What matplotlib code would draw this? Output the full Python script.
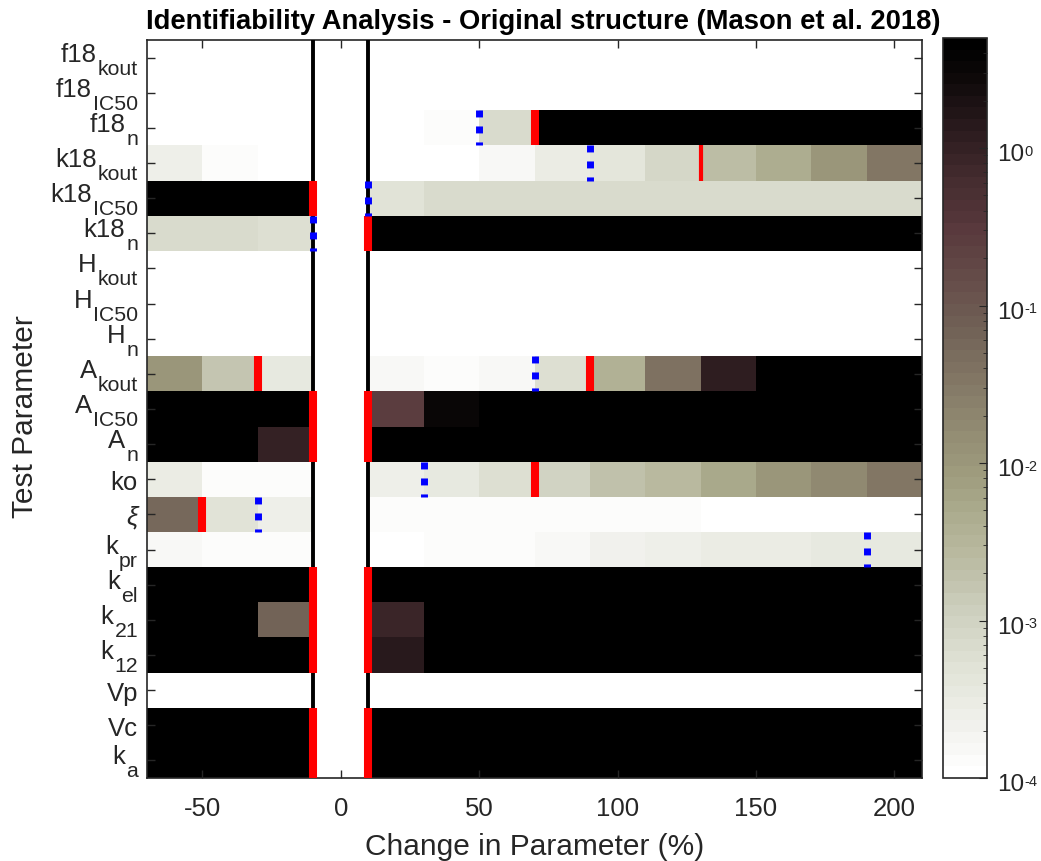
import numpy as np
import matplotlib
matplotlib.use("Agg")
import matplotlib.pyplot as plt
from matplotlib.colors import LogNorm, LinearSegmentedColormap, ListedColormap
from matplotlib.ticker import LogLocator, NullFormatter
from matplotlib.transforms import blended_transform_factory, offset_copy

plt.rcParams['font.family'] = ['Liberation Sans', 'DejaVu Sans']
plt.rcParams['axes.unicode_minus'] = False

# ---------------- data ----------------
param_names = ['f18', 'f18', 'f18', 'k18', 'k18', 'k18', 'H', 'H', 'H',
               'A', 'A', 'A', 'ko', 'ξ', 'k', 'k', 'k', 'k', 'Vp', 'Vc', 'k']
param_subs = ['kout', 'IC50', 'n', 'kout', 'IC50', 'n', 'kout', 'IC50', 'n',
              'kout', 'IC50', 'n', '', '', 'pr', 'el', '21', '12', '', '', 'a']

change_pct = [-60, -40, -20, 0, 20, 40, 60, 80, 100, 120, 140, 160, 180, 200]
x_ticks = [-50, 0, 50, 100, 150, 200]
cbar_decades = [-4, -3, -2, -1, 0]

N = np.nan   # unperturbed column
W = 1e-5     # below colour range (white)
B = 50.0     # above colour range (black)

f18_kout = [W, W, W, N, W, W, W, W, W, W, W, W, W, W]
f18_IC50 = [W, W, W, N, W, W, W, W, W, W, W, W, W, W]
f18_n    = [W, W, W, N, W, 1.3e-4, 7e-4, B, B, B, B, B, B, B]
k18_kout = [2.5e-4, 1.4e-4, W, N, W, W, 1.65e-4, 3.2e-4, 4.4e-4, 8e-4, 2.1e-3, 4.5e-3, 1.1e-2, 3.2e-2]
k18_IC50 = [B, B, B, N, 5e-4, 7e-4, 7e-4, 7e-4, 7e-4, 7e-4, 7e-4, 7e-4, 7e-4, 7e-4]
k18_n    = [7e-4, 7e-4, 5.6e-4, N, B, B, B, B, B, B, B, B, B, B]
H_kout   = [W, W, W, N, W, W, W, W, W, W, W, W, W, W]
H_IC50   = [W, W, W, N, W, W, W, W, W, W, W, W, W, W]
H_n      = [W, W, W, N, W, W, W, W, W, W, W, W, W, W]
A_kout   = [1.1e-2, 1.6e-3, 3.8e-4, N, 1.65e-4, 1.4e-4, 1.65e-4, 6.3e-4, 3.5e-3, 4e-2, 1.1, B, B, B]
A_IC50   = [B, B, B, N, 0.25, 3.5, B, B, B, B, B, B, B, B]
A_n      = [B, B, 1.0, N, B, B, B, B, B, B, B, B, B, B]
ko       = [3.2e-4, 1.4e-4, 1.25e-4, N, 2.5e-4, 3.8e-4, 6.3e-4, 1e-3, 1.9e-3, 2.8e-3, 5e-3, 1.1e-2, 1.8e-2, 3.2e-2]
xi       = [5.6e-2, 5e-4, 2.5e-4, N, 1.25e-4, 1.25e-4, 1.25e-4, 1.25e-4, 1.25e-4, 1.25e-4, W, W, W, W]
k_pr     = [1.65e-4, 1.4e-4, 1.25e-4, N, W, 1.3e-4, 1.25e-4, 1.65e-4, 2.2e-4, 2.5e-4, 3.2e-4, 3.2e-4, 3.8e-4, 3.8e-4]
k_el     = [B, B, B, N, B, B, B, B, B, B, B, B, B, B]
k_21     = [B, B, 7e-2, N, 0.8, B, B, B, B, B, B, B, B, B]
k_12     = [B, B, B, N, 1.5, B, B, B, B, B, B, B, B, B]
Vp       = [W, W, W, N, W, W, W, W, W, W, W, W, W, W]
Vc       = [B, B, B, N, B, B, B, B, B, B, B, B, B, B]
k_a      = [B, B, B, N, B, B, B, B, B, B, B, B, B, B]

# threshold markers: (row index, % change)
red_rows = [2, 3, 4, 5, 9, 9, 10, 10, 11, 11, 12, 13, 15, 15, 16, 16, 17, 17, 19, 19, 20, 20]
red_x    = [70, 130, -10, 10, -30, 90, -10, 10, -10, 10, 70, -50, -10, 10, -10, 10, -10, 10, -10, 10, -10, 10]
blue_rows = [2, 3, 4, 5, 9, 12, 13, 14]
blue_x    = [50, 90, 10, -10, 70, 30, -30, 190]
ref_lines = [-10, 10]

# ---------------- colormap ----------------
vmin, vmax = 1e-4, 5.0
anchor_log = [-4.0, -3.72, -3.34, -2.97, -2.59, -2.31, -2.07, -1.56, -1.18, -0.80, -0.48, -0.19, 0.18, 0.50, np.log10(vmax)]
anchor_rgb = [(255, 255, 255), (242, 242, 238), (225, 227, 215), (205, 207, 190), (185, 185, 160),
              (170, 170, 140), (158, 155, 125), (135, 125, 105), (115, 100, 88), (100, 75, 72),
              (88, 56, 60), (70, 45, 48), (40, 25, 28), (12, 8, 8), (0, 0, 0)]
lo, hi = np.log10(vmin), np.log10(vmax)
pos = [(a - lo) / (hi - lo) for a in anchor_log]
base = LinearSegmentedColormap.from_list('idf', list(zip(pos, [tuple(c / 255 for c in rgb) for rgb in anchor_rgb])))
cmap = ListedColormap(base(np.linspace(0, 1, 64)))
cmap.set_bad('white')
cmap.set_under('white')
cmap.set_over('black')

rows = [f18_kout, f18_IC50, f18_n, k18_kout, k18_IC50, k18_n, H_kout, H_IC50, H_n,
        A_kout, A_IC50, A_n, ko, xi, k_pr, k_el, k_21, k_12, Vp, Vc, k_a]
Z = np.ma.masked_invalid(np.array(rows, dtype=float))

cx = np.array(change_pct, dtype=float)
step = cx[1] - cx[0]
x_edges = np.concatenate([cx - step / 2, [cx[-1] + step / 2]])
y_edges = np.arange(len(param_names) + 1) - 0.5

# ---------------- figure ----------------
fig = plt.figure(figsize=(10.41, 8.61), dpi=100)
ax = fig.add_axes([147 / 1041, 83 / 861, 775 / 1041, 738 / 861])
mesh = ax.pcolormesh(x_edges, y_edges, Z, cmap=cmap, norm=LogNorm(vmin=vmin, vmax=vmax),
                     shading='flat', antialiased=False)
ax.set_xlim(x_edges[0], x_edges[-1])
ax.set_ylim(y_edges[-1], y_edges[0])

for xv in ref_lines:
    ax.axvline(xv, color='black', lw=2.8, zorder=3)

thin = {(3, 130)}
for r, xv in zip(red_rows, red_x):
    w = 3.0 if (r, xv) in thin else 5.8
    ax.plot([xv, xv], [r - 0.5, r + 0.5], color='red', lw=w, solid_capstyle='butt', zorder=4)

for r, xv in zip(blue_rows, blue_x):
    ax.plot([xv, xv], [r - 0.5, r + 0.5], color='blue', lw=5.0, linestyle=(0, (1.0, 1.3)),
            dash_capstyle='butt', zorder=5)

TXT = '#262626'
ax.set_yticks(range(len(param_names)))
ax.set_yticklabels([])
ax.set_xticks(x_ticks)
ax.set_xticklabels([str(t) for t in x_ticks], fontsize=18.5, color=TXT)
ax.tick_params(direction='in', length=6, width=1, top=True, right=True, color=TXT)
ax.tick_params(axis='x', pad=14)
for sp in ax.spines.values():
    sp.set_color(TXT)
    sp.set_linewidth(1.2)

renderer = fig.canvas.get_renderer()

# y tick labels with MATLAB-like subscripts
ytrans = blended_transform_factory(ax.transAxes, ax.transData)
for i, (nm, sb) in enumerate(zip(param_names, param_subs)):
    style = 'italic' if nm == 'ξ' else 'normal'
    if sb:
        ts = ax.text(0, i, sb, fontsize=15.3, color=TXT, ha='right', va='baseline',
                     transform=offset_copy(ytrans, fig, x=-9, y=-17, units='dots'))
        w = ts.get_window_extent(renderer).width
        ax.text(0, i, nm, fontsize=18.5, color=TXT, ha='right', va='baseline', fontstyle=style,
                transform=offset_copy(ytrans, fig, x=-9 - w - 1, y=-4, units='dots'))
    else:
        ax.text(0, i, nm, fontsize=18.5, color=TXT, ha='right', va='baseline', fontstyle=style,
                transform=offset_copy(ytrans, fig, x=-9, y=-10.5, units='dots'))

ax.set_xlabel('Change in Parameter (%)', fontsize=21.5, labelpad=8.5, color=TXT)
ax.set_ylabel('Test Parameter', fontsize=21.5, color=TXT)
ax.yaxis.set_label_coords(-108 / 775, 0.49)
ax.set_title('Identifiability Analysis - Original structure (Mason et al. 2018)',
             fontsize=19.7, fontweight='bold', pad=8, x=0.511)

# colorbar
cax = fig.add_axes([943 / 1041, 83 / 861, 44 / 1041, 740 / 861])
cb = fig.colorbar(mesh, cax=cax, extend='neither')
cax.yaxis.set_major_locator(LogLocator(base=10))
cax.yaxis.set_minor_locator(LogLocator(base=10, subs=np.arange(2, 10)))
cax.yaxis.set_major_formatter(NullFormatter())
cax.yaxis.set_minor_formatter(NullFormatter())
cax.tick_params(which='both', direction='in', color=TXT)
cax.tick_params(which='major', length=6)
cax.tick_params(which='minor', length=3)
cb.outline.set_edgecolor(TXT)
cb.outline.set_linewidth(1.2)

ctrans = blended_transform_factory(cax.transAxes, cax.transData)
for d in cbar_decades:
    tb = cax.text(1, 10.0 ** d, '10', fontsize=17.5, color=TXT, ha='left', va='baseline',
                  transform=offset_copy(ctrans, fig, x=10, y=-13, units='dots'))
    wb = tb.get_window_extent(renderer).width
    cax.text(1, 10.0 ** d, str(d), fontsize=10.5, color=TXT, ha='left', va='baseline',
             transform=offset_copy(ctrans, fig, x=10 + wb + 0.5, y=-7.5, units='dots'))

fig.savefig('out.png', dpi=100)
